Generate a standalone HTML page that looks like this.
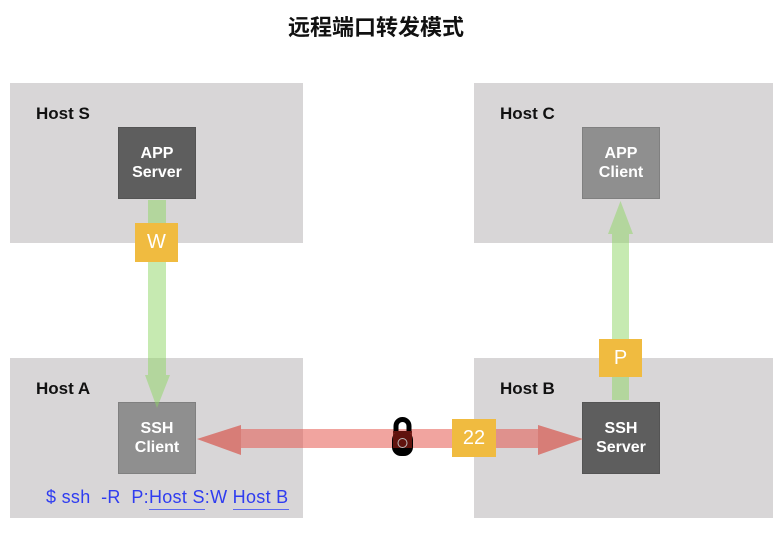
<!DOCTYPE html>
<html><head><meta charset="utf-8"><style>
body{margin:0;width:780px;height:535px;background:#fff;position:relative;overflow:hidden;font-family:"Liberation Sans","Noto Sans CJK SC",sans-serif}
.a{position:absolute}
.host{background:#d8d6d7;}
.hl{font-weight:bold;font-size:17px;color:#111}
.n{color:#fff;font-weight:bold;font-size:16px;text-align:center;line-height:19px;display:flex;align-items:center;justify-content:center;box-sizing:border-box;border:1px solid rgba(0,0,0,0.1)}
.y{background:#f0bb40;color:#fff;font-size:20px;display:flex;align-items:center;justify-content:center}
</style></head><body>
<div class="a" style="left:0;width:752px;top:10px;text-align:center;font-weight:bold;font-size:22px;color:#111">远程端口转发模式</div>
<div class="a host" style="left:10px;top:83px;width:293px;height:160px"></div>
<div class="a host" style="left:474px;top:83px;width:299px;height:160px"></div>
<div class="a host" style="left:10px;top:358px;width:293px;height:160px"></div>
<div class="a host" style="left:474px;top:358px;width:299px;height:160px"></div>
<div class="a hl" style="left:36px;top:104px">Host S</div>
<div class="a hl" style="left:500px;top:104px">Host C</div>
<div class="a hl" style="left:36px;top:379px">Host A</div>
<div class="a hl" style="left:500px;top:379px">Host B</div>
<div class="a n" style="left:118px;top:127px;width:78px;height:72px;background:#5e5e5e">APP<br>Server</div>
<div class="a n" style="left:582px;top:127px;width:78px;height:72px;background:#8f8f8f">APP<br>Client</div>
<div class="a n" style="left:118px;top:402px;width:78px;height:72px;background:#8f8f8f">SSH<br>Client</div>
<div class="a n" style="left:582px;top:402px;width:78px;height:72px;background:#5e5e5e">SSH<br>Server</div>
<svg class="a" style="left:0;top:0" width="780" height="535">
<g fill="rgb(141,214,100)" fill-opacity="0.5">
<path d="M148 200H166V375H170L157 408L145 375H148Z"/>
<path d="M612 400H629V234H633L620.5 201L608 234H612Z"/>
</g>
<path d="M241 429H538V425L583 439L538 455V448H241V455L197 439L241 425Z" fill="rgb(230,90,80)" fill-opacity="0.55"/>
<path d="M197 439L241 425V455Z M583 439L538 425V455Z" fill="rgb(200,80,70)" fill-opacity="0.3"/>
<path d="M396 433V426A6.5 6.5 0 0 1 409 426V433" fill="none" stroke="#000" stroke-width="5"/>
<rect x="392" y="431" width="21" height="25" rx="9" fill="#000"/>
<rect x="393" y="431" width="19" height="17" fill="#6a1510" opacity="0.9"/>
<circle cx="402.5" cy="443" r="4.5" fill="none" stroke="#bbb" stroke-width="1"/>
</svg>
<div class="a y" style="left:135px;top:223px;width:43px;height:39px">W</div>
<div class="a y" style="left:599px;top:339px;width:43px;height:38px">P</div>
<div class="a y" style="left:452px;top:419px;width:44px;height:38px">22</div>
<div class="a" style="left:46px;top:487px;font-size:18px;letter-spacing:0.3px;color:#2f3cf0;white-space:pre">$ ssh  -R  P:<span style="border-bottom:1px solid #5a66f0;padding-bottom:2px">Host S</span>:W <span style="border-bottom:1px solid #5a66f0;padding-bottom:2px">Host B</span></div>
</body></html>
